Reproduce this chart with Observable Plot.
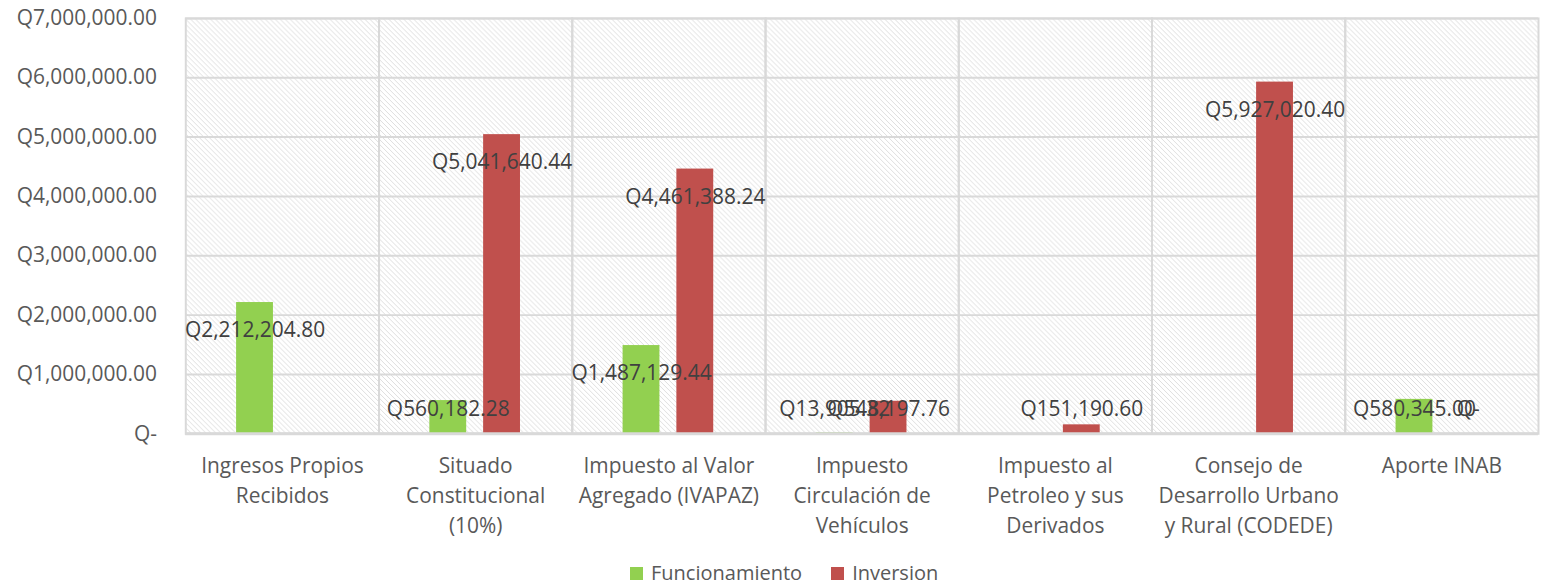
<!DOCTYPE html>
<html>
<head>
<meta charset="utf-8">
<script src="https://cdn.jsdelivr.net/npm/d3@7"></script>
<script src="https://cdn.jsdelivr.net/npm/@observablehq/plot@0.6"></script>
<style>
  html, body { margin: 0; padding: 0; background: #fff; overflow: hidden; }
  #wrap { position: relative; width: 1542px; height: 587px; overflow: hidden; }
  #legend { position: absolute; left: 630px; top: 563px; height: 20px; line-height: 20px; display: flex; align-items: center;
            font-family: "Open Sans", sans-serif; font-size: 20px; color: #595959; white-space: nowrap; }
  #legend .sw { display: inline-block; width: 13px; height: 13px; margin-right: 8px; }
  #legend .item { display: flex; align-items: center; margin-right: 29px; }
</style>
</head>
<body>
<div id="wrap"></div>
<script>
const categories = [
  "Ingresos Propios Recibidos",
  "Situado Constitucional (10%)",
  "Impuesto al Valor Agregado (IVAPAZ)",
  "Impuesto Circulación de Vehículos",
  "Impuesto al Petroleo y sus Derivados",
  "Consejo de Desarrollo Urbano y Rural (CODEDE)",
  "Aporte INAB"
];
const categoryLabels = [
  "Ingresos Propios\nRecibidos",
  "Situado\nConstitucional\n(10%)",
  "Impuesto al Valor\nAgregado (IVAPAZ)",
  "Impuesto\nCirculación de\nVehículos",
  "Impuesto al\nPetroleo y sus\nDerivados",
  "Consejo de\nDesarrollo Urbano\ny Rural (CODEDE)",
  "Aporte INAB"
];
const series = ["Funcionamiento", "Inversion"];
const funcionamiento = [2212204.80, 560182.28, 1487129.44, 13905.32, null, null, 580345.00];
const inversion      = [null, 5041640.44, 4461388.24, 548197.76, 151190.60, 5927020.40, 0];
const colors = ["#92d050", "#c0504d"];
const yTicks = [0, 1e6, 2e6, 3e6, 4e6, 5e6, 6e6, 7e6];

const rows = [];
categories.forEach((c, i) => {
  if (funcionamiento[i] != null) rows.push({category: c, series: series[0], value: funcionamiento[i]});
  if (inversion[i] != null) rows.push({category: c, series: series[1], value: inversion[i]});
});

const money = v => v === 0 ? "Q-" : "Q" + d3.format(",.2f")(v);
const labelMap = new Map(categories.map((c, i) => [c, categoryLabels[i]]));

const chart = Plot.plot({
  width: 1548,
  height: 562,
  marginLeft: 184,
  marginRight: 2,
  marginTop: 18,
  marginBottom: 127,
  style: {fontFamily: "'Open Sans', sans-serif", fontSize: "21px", color: "#595959", background: "transparent", overflow: "visible"},
  fx: {domain: categories, padding: 0, label: null},
  x: {domain: series, paddingInner: 0.309, paddingOuter: 0.924, axis: null},
  y: {domain: [0, 7e6], label: null},
  color: {domain: series, range: colors},
  marks: [
    Plot.frame({fill: "url(#hatch)", stroke: "none"}),
    Plot.gridY(yTicks, {stroke: "#d9d9d9", strokeOpacity: 1, strokeWidth: 2}),
    Plot.frame({stroke: "#d9d9d9", strokeWidth: 2, fill: "none"}),
    Plot.axisY(yTicks, {tickSize: 0, tickPadding: 29, tickFormat: money, fontSize: 21, fill: "#595959", label: null}),
    Plot.axisFx({anchor: "bottom", tickSize: 0, tickPadding: 18, fontSize: 21, lineHeight: 1.43, fill: "#595959",
                 tickFormat: d => labelMap.get(d), label: null}),
    Plot.barY(rows, {fx: "category", x: "series", y: "value", fill: "series"}),
    Plot.ruleY([0], {stroke: "#d9d9d9", strokeWidth: 3}),
    Plot.text(rows, {
      fx: "category", x: "series", y: "value", text: d => money(d.value),
      fontSize: 21, fill: "#404040", lineAnchor: "middle",
      render(index, scales, values, dimensions, context, next) {
        const y0 = scales.y(0);
        const Y = Array.from(values.y, v => Math.min(v + 28, y0 - 25));
        return next(index, scales, {...values, y: Y}, dimensions, context);
      }
    })
  ]
});

// hatch pattern
const svg = d3.select(chart.tagName.toLowerCase() === "svg" ? chart : chart.querySelector("svg"));
const defs = svg.insert("defs", ":first-child");
const pat = defs.append("pattern").attr("id", "hatch").attr("patternUnits", "userSpaceOnUse")
  .attr("width", 5).attr("height", 5);
pat.append("rect").attr("width", 5).attr("height", 5).attr("fill", "#ffffff");
pat.append("path").attr("d", "M-1,-1 L6,6 M-1,4 L1,6 M4,-1 L6,1")
  .attr("stroke", "#dedede").attr("stroke-width", 1);

const wrap = document.getElementById("wrap");
wrap.appendChild(chart);

const legend = document.createElement("div");
legend.id = "legend";
series.forEach((s, i) => {
  const item = document.createElement("span");
  item.className = "item";
  const sw = document.createElement("span");
  sw.className = "sw";
  sw.style.background = colors[i];
  item.appendChild(sw);
  item.appendChild(document.createTextNode(s));
  legend.appendChild(item);
});
wrap.appendChild(legend);
</script>
</body>
</html>
